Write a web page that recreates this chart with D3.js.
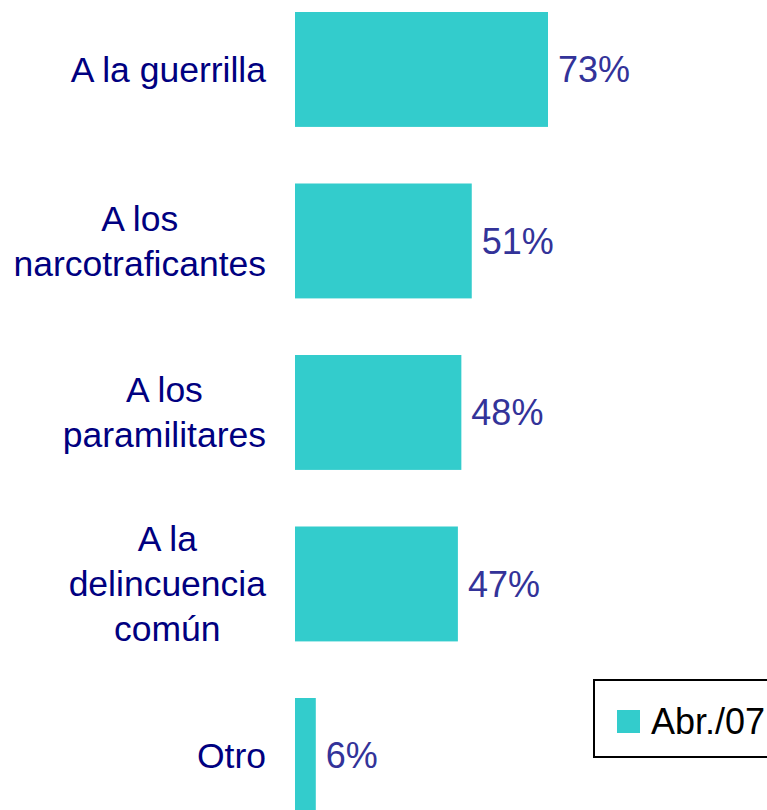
<!DOCTYPE html>
<html>
<head>
<meta charset="utf-8">
<script src="https://cdn.jsdelivr.net/npm/d3@7"></script>
<style>
  html, body { margin: 0; padding: 0; background: #fff; overflow: hidden; }
</style>
</head>
<body>
<script>
const categories = [
  ["A la guerrilla"],
  ["A los", "narcotraficantes"],
  ["A los", "paramilitares"],
  ["A la", "delincuencia", "común"],
  ["Otro"]
];
const values = [73, 51, 48, 47, 6];
const seriesName = "Abr./07";

const width = 767;
const height = 810;
const fontSize = 36;
const labelSize = 35.5;
const lineHeight = 45;

const svg = d3.create("svg")
  .attr("width", width)
  .attr("height", height)
  .attr("viewBox", [0, 0, width, height])
  .style("font-family", "'Liberation Sans', Arial, sans-serif");

const x = d3.scaleLinear().domain([0, 73]).range([295, 548]);

const y = d3.scaleBand()
  .domain(d3.range(categories.length))
  .range([12, 12 + 171.5 * (categories.length - 0.33)])
  .paddingInner(0.33)
  .paddingOuter(0);

const rows = svg.selectAll("g.row")
  .data(values)
  .join("g")
  .attr("class", "row");

rows.append("rect")
  .attr("x", x(0))
  .attr("y", (d, i) => y(i))
  .attr("width", d => x(d) - x(0))
  .attr("height", y.bandwidth())
  .attr("fill", "#33CCCC");

rows.append("text")
  .attr("x", d => x(d) + 10)
  .attr("y", (d, i) => y(i) + y.bandwidth() / 2)
  .attr("dy", "0.35em")
  .attr("font-size", fontSize)
  .attr("fill", "#333399")
  .text(d => d + "%");

document.body.appendChild(svg.node());

// category labels: block right-aligned, lines centered on each other
const labelRight = 266;
categories.forEach((lines, i) => {
  const t = svg.append("text")
    .attr("font-size", labelSize)
    .attr("fill", "#000080")
    .attr("text-anchor", "middle");
  const cy = y(i) + y.bandwidth() / 2;
  const first = cy - (lines.length - 1) * lineHeight / 2;
  lines.forEach((ln, j) => {
    t.append("tspan")
      .attr("y", first + j * lineHeight)
      .attr("dy", "0.35em")
      .text(ln);
  });
  let w = 0;
  t.selectAll("tspan").each(function () {
    w = Math.max(w, this.getComputedTextLength());
  });
  t.selectAll("tspan").attr("x", labelRight - w / 2);
});

// legend
const legend = svg.append("g");
legend.append("rect")
  .attr("x", 594)
  .attr("y", 680)
  .attr("width", 200)
  .attr("height", 77)
  .attr("fill", "#fff")
  .attr("stroke", "#000")
  .attr("stroke-width", 2);
legend.append("rect")
  .attr("x", 617)
  .attr("y", 710)
  .attr("width", 23)
  .attr("height", 23)
  .attr("fill", "#33CCCC");
legend.append("text")
  .attr("x", 651)
  .attr("y", 721.5)
  .attr("dy", "0.35em")
  .attr("font-size", fontSize)
  .attr("fill", "#000")
  .text(seriesName);
</script>
</body>
</html>
